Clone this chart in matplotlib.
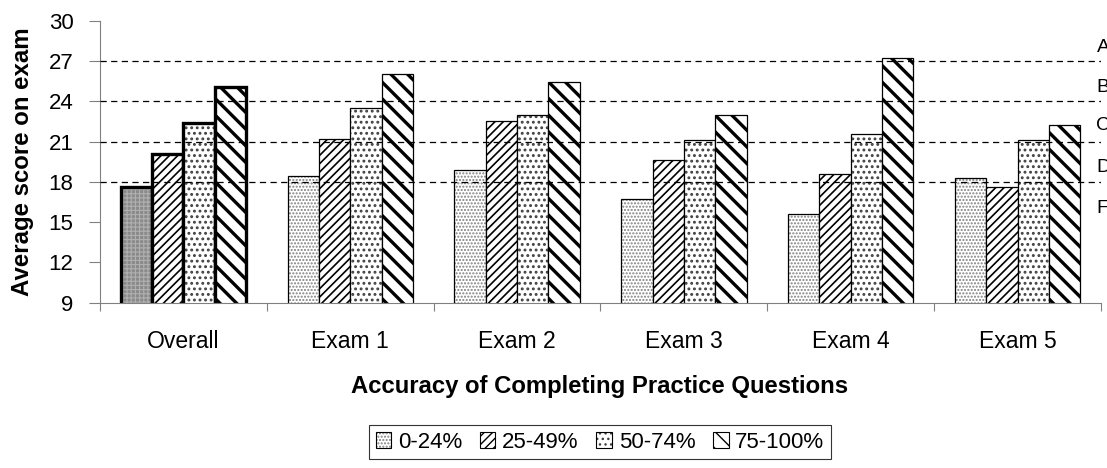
import numpy as np
import matplotlib
matplotlib.use('Agg')
import matplotlib.pyplot as plt
from matplotlib.patches import Patch

plt.rcParams['font.family'] = ['Liberation Sans', 'DejaVu Sans']

groups = ['Overall', 'Exam 1', 'Exam 2', 'Exam 3', 'Exam 4', 'Exam 5']
series = ['0-24%', '25-49%', '50-74%', '75-100%']
scores = {
    '0-24%':   [17.6, 18.4, 18.9, 16.7, 15.6, 18.3],
    '25-49%':  [20.1, 21.2, 22.5, 19.6, 18.6, 17.6],
    '50-74%':  [22.4, 23.5, 23.0, 21.1, 21.6, 21.1],
    '75-100%': [25.1, 26.0, 25.4, 23.0, 27.2, 22.2],
}
grade_lines = [27, 24, 21, 18]
grade_letters = ['A', 'B', 'C', 'D', 'F']
grade_pos = [28.0, 25.0, 22.2, 19.1, 16.0]
yticks = [9, 12, 15, 18, 21, 24, 27, 30]

# pattern per series: (face, hatch, hatch colour, hatch width)
styles = {
    '0-24%':   ('white', '.....', '#808080', 1.0),
    '25-49%':  ('white', '////', 'black', 1.2),
    '50-74%':  ('white', '...', '#404040', 1.3),
    '75-100%': ('white', '\\\\', 'black', 2.4),
}


def set_pattern(p, hatch, hc, hw):
    p.set_hatch(hatch)
    p._hatch_color = matplotlib.colors.to_rgba(hc)
    try:
        p.set_hatch_linewidth(hw)
    except AttributeError:
        pass


fig = plt.figure(figsize=(11.07, 4.68), dpi=100)
ax = fig.add_axes([100/1107, 1-302.7/468, 1001/1107, 282/468])

x = np.arange(len(groups))
w = 0.188
for i, s in enumerate(series):
    face, hatch, hc, hw = styles[s]
    bars = ax.bar(x + (i - 1.5) * w, scores[s], w, bottom=0, color=face,
                  edgecolor='black', linewidth=0.9, zorder=2)
    for j, b in enumerate(bars):
        set_pattern(b, hatch, hc, hw)
        if j == 0:
            # overall group gets heavy outlines
            b.set_linewidth(2.4)
            if i == 0:
                b.set_facecolor('#8a8a8a')
                set_pattern(b, '++++', '#b0b0b0', 0.8)

for g in grade_lines:
    ax.axhline(g, color='black', lw=0.9, ls=(0, (5, 3.5)), zorder=3)
for lab, p in zip(grade_letters, grade_pos):
    ax.text(0.9955, p, lab, transform=ax.get_yaxis_transform(), ha='left',
            va='center', fontsize=14, clip_on=False)

ax.set_xlim(-0.5, len(groups) - 0.5)
ax.set_ylim(9, 30)
ax.set_yticks(yticks)
ax.tick_params(axis='y', labelsize=16, length=8, width=0.8, color='#808080', pad=11)
ax.set_xticks(x)
ax.set_xticklabels(groups)
ax.set_xticks(np.arange(len(groups) + 1) - 0.5, minor=True)
ax.tick_params(axis='x', which='major', length=0, labelsize=16.5, pad=20)
ax.tick_params(axis='x', which='minor', length=6, width=0.8, color='#808080')
for sp in ['top', 'right']:
    ax.spines[sp].set_visible(False)
ax.spines['left'].set_color('#808080')
ax.spines['bottom'].set_color('#808080')
fig.text(23/1107, 1-162/468, 'Average score on exam', rotation=90,
         ha='center', va='center', fontsize=17.3, fontweight='bold')
fig.text(600/1107, 1-386/468, 'Accuracy of Completing Practice Questions',
         ha='center', va='center', fontsize=17.2, fontweight='bold')

handles = []
for s in series:
    face, hatch, hc, hw = styles[s]
    p = Patch(facecolor=face, edgecolor='black', linewidth=0.8)
    set_pattern(p, hatch, hc, hw)
    handles.append(p)
leg = fig.legend(handles, series, loc='center', bbox_to_anchor=(600/1107, 1-442/468),
                 ncol=4, fontsize=16, frameon=True, fancybox=False,
                 handlelength=0.7, handleheight=0.7, handletextpad=0.3,
                 columnspacing=0.8, borderpad=0.3, borderaxespad=0)
leg.get_frame().set_edgecolor('black')
leg.get_frame().set_linewidth(0.8)

fig.savefig('out.png', dpi=100)
